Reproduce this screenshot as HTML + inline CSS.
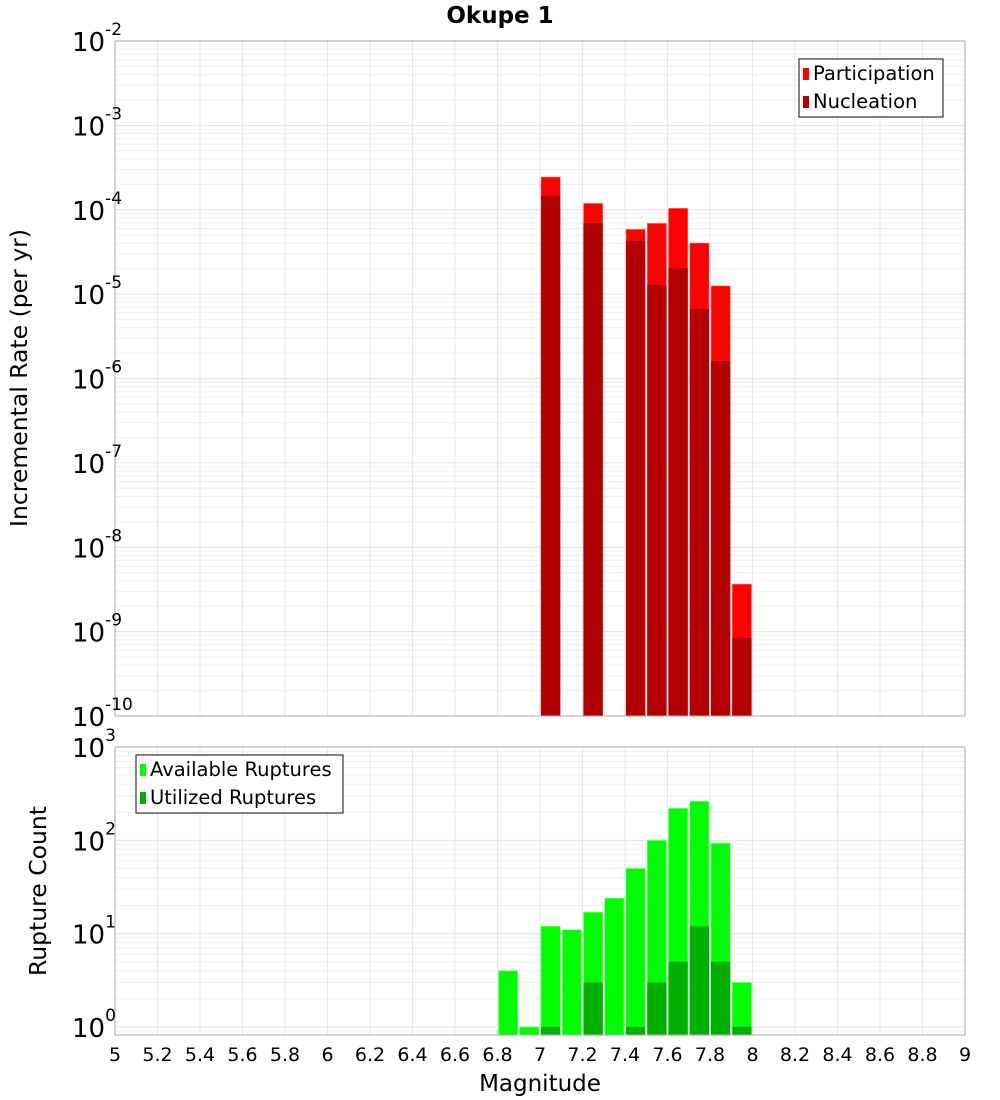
<!DOCTYPE html>
<html><head><meta charset="utf-8"><style>
body{margin:0;background:#fff;}
svg{display:block;font-family:"DejaVu Sans","Liberation Sans",sans-serif;}
</style></head><body>
<svg id="c" width="1000" height="1100"></svg>
<script>
const mags=[6.85,6.95,7.05,7.15,7.25,7.35,7.45,7.55,7.65,7.75,7.85,7.95];
const participation=[0,0,2.44e-4,0,1.19e-4,0,5.86e-5,6.9e-5,1.04e-4,4.03e-5,1.25e-5,3.66e-9];
const nucleation=[0,0,1.47e-4,0,6.97e-5,0,4.26e-5,1.29e-5,2.04e-5,6.67e-6,1.61e-6,8.4e-10];
const available=[4,1,12,11,17,24,50,100,220,262,93,3];
const utilized=[0,0,1,0,3,0,1,3,5,12,5,1];
const xTicks=[5,5.2,5.4,5.6,5.8,6,6.2,6.4,6.6,6.8,7,7.2,7.4,7.6,7.8,8,8.2,8.4,8.6,8.8,9];
const topExps=[-10,-9,-8,-7,-6,-5,-4,-3,-2];
const botExps=[0,1,2,3];

const NS="http://www.w3.org/2000/svg";
const svg=document.getElementById('c');
function el(t,a,p){const e=document.createElementNS(NS,t);for(const k in a)e.setAttribute(k,a[k]);(p||svg).appendChild(e);return e;}
const X0=115,X1=965;
const xs=m=>X0+(m-5)/4*(X1-X0);
const T0=41,T1=716;
const ys1=v=>T0+(-2-Math.log10(v))/8*(T1-T0);
const B0=747,B1=1035,BMIN=Math.log10(0.82),BMAX=3;
const ys2=v=>B1-(Math.log10(v)-BMIN)/(BMAX-BMIN)*(B1-B0);

function grid(y0,y1,ys,lo,hi,minV){
  const g=el('g',{});
  
  
  for(let e=lo;e<=hi;e++)for(let k=1;k<10;k++){const v=k*Math.pow(10,e);if(v<minV)continue;const y=ys(v);if(y<y0-0.5||y>y1+0.5)continue;
    el('line',{x1:X0,x2:X1,y1:y,y2:y,stroke:k==1?'#e2e2e2':'#f0f0f0','stroke-width':1},g);}
  xTicks.forEach(t=>{el('line',{x1:xs(t),x2:xs(t),y1:y0,y2:y1,stroke:'#e8e8e8','stroke-width':1},g);});
}
grid(T0,T1,ys1,-10,-3,1e-10);
grid(B0,B1,ys2,-1,2,0.82);

const bw=(xs(5.1)-xs(5));
mags.forEach((m,i)=>{
  if(participation[i]>0){const y=ys1(participation[i]);
    const r=el('rect',{x:xs(m)-bw/2+1,y:y,width:bw-2,height:T1-y,fill:'#ff0000',stroke:'#ff8080','stroke-width':0.6});
    
    }
  if(nucleation[i]>0){const y=ys1(nucleation[i]);
    const r=el('rect',{x:xs(m)-bw/2+1,y:y,width:bw-2,height:T1-y,fill:'#b30000'});
    
    }
  if(available[i]>0){const y=ys2(available[i]);
    const r=el('rect',{x:xs(m)-bw/2+1,y:y,width:bw-2,height:B1-y,fill:'#00ff00',stroke:'#80ff80','stroke-width':0.6});
    
    }
  if(utilized[i]>0){const y=ys2(utilized[i]);
    const r=el('rect',{x:xs(m)-bw/2+1,y:y,width:bw-2,height:B1-y,fill:'#00b000'});
    
    }
});

el('rect',{x:X0,y:T0,width:X1-X0,height:T1-T0,fill:'none',stroke:'#aaaaaa'});
el('rect',{x:X0,y:B0,width:X1-X0,height:B1-B0,fill:'none',stroke:'#aaaaaa'});

function ylab(y,e,name){const t=el('text',{x:72,y:y+10,'font-size':26,fill:'#000'});
  
  
  const b=el('tspan',{},t);b.textContent='10';
  const s=el('tspan',{dy:-16,'font-size':17},t);s.textContent=String(e);}
topExps.forEach(e=>ylab(ys1(Math.pow(10,e)),e,'y-tick-label'));
botExps.forEach(e=>ylab(ys2(Math.pow(10,e)),e,'y-tick-label'));

xTicks.forEach(t=>{const tx=el('text',{x:xs(t),y:1061,'text-anchor':'middle','font-size':19,fill:'#000'});
  
  
  tx.textContent=String(t);});

let t=el('text',{x:500,y:23,'text-anchor':'middle','font-size':23,'font-weight':'bold'});t.textContent='Okupe 1';

t=el('text',{x:540,y:1091,'text-anchor':'middle','font-size':23});t.textContent='Magnitude';

t=el('text',{x:0,y:0,'text-anchor':'middle','font-size':23.5,transform:'translate(27,378) rotate(-90)'});t.textContent='Incremental Rate (per yr)';

t=el('text',{x:0,y:0,'text-anchor':'middle','font-size':23.5,transform:'translate(46,891) rotate(-90)'});t.textContent='Rupture Count';


function legend(x,y,w,items,name){const g=el('g',{});
  
  el('rect',{x:x,y:y,width:w,height:58,fill:'#fff',stroke:'#333','stroke-width':1.2},g);
  items.forEach((it,i)=>{el('rect',{x:x+4,y:y+9+i*28,width:6,height:12,fill:it[1]},g);
    const tt=el('text',{x:x+14,y:y+21+i*28,'font-size':19.5},g);tt.textContent=it[0];});}
legend(799,59,144,[['Participation','#ff0000'],['Nucleation','#b30000']],'legend-top');
legend(136,755,207,[['Available Ruptures','#00ff00'],['Utilized Ruptures','#00b000']],'legend-bottom');
</script>
</body></html>
